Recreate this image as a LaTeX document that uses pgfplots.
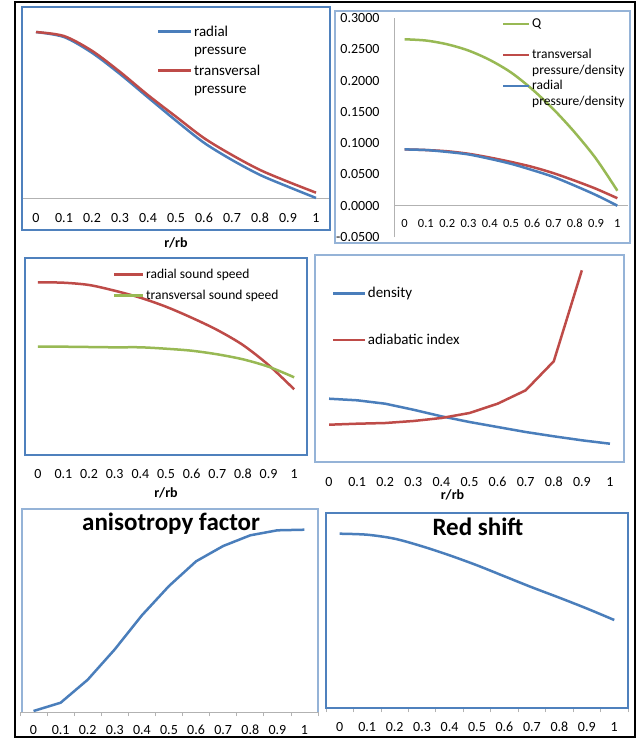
\documentclass[border=0pt]{standalone}
\usepackage{pgfplots}
\pgfplotsset{compat=1.18}
\usepackage{fontspec}
\setmainfont{Carlito}

\definecolor{sblue}{HTML}{4A7EBB}
\definecolor{sred}{HTML}{BE4B48}
\definecolor{sgreen}{HTML}{98B954}
\definecolor{fdark}{HTML}{4F81BD}
\definecolor{flight}{HTML}{95B3D7}

\newcommand\tk{\fontsize{14}{16}\selectfont}
\newcommand\lbl{\bfseries\fontsize{14}{16}\selectfont}
\newcommand\ttl{\bfseries\fontsize{25}{28}\selectfont}

\pgfplotsset{
  panel/.style={
    scale only axis, anchor=north west, clip=false,
    xmin=-0.05, xmax=1.05,
    xtick={0,0.1,0.2,0.3,0.4,0.5,0.6,0.7,0.8,0.9,1},
    xticklabels={0,0.1,0.2,0.3,0.4,0.5,0.6,0.7,0.8,0.9,1},
    major tick length=0pt,
    hide obscured x ticks=false, hide obscured y ticks=false,
    every axis plot/.append style={line width=2.5pt, line join=round},
    legend style={draw=none, fill=none, inner sep=0pt, cells={align=left},
      nodes={inner xsep=1.5pt, inner ysep=0pt}},
    legend cell align=left,
  },
  % legend key: length, vertical offset (to sit on the first line of a wrapped entry)
  key/.style 2 args={legend image code/.code={\draw[##1, line width=2.5pt] (0pt,#2) -- (#1,#2);}},
}

\begin{document}
\begin{tikzpicture}
\fill[white] (0pt,0pt) rectangle (643pt,-740pt);

% top left: pressures
\begin{axis}[panel, at={(22pt,-7pt)}, width=308pt, height=223pt,
  ymin=-0.193, ymax=1.151, hide y axis,
  axis x line=middle, axis line style={draw=gray!60, line width=0.8pt, -},
  xticklabel style={anchor=center, yshift=-20pt, font=\tk},
  xlabel={r/rb}, xlabel style={at={(axis description cs:0.5,-0.058)}, anchor=center, font=\lbl},
  key={33pt}{9pt},
  legend style={at={(axis description cs:0.438,0.917)}, anchor=north west, row sep=9pt,
    font=\fontsize{15}{18}\selectfont}]
\addplot[sblue, smooth] coordinates {(0,1.000) (0.1,0.970) (0.2,0.875) (0.3,0.747) (0.4,0.606) (0.5,0.466) (0.6,0.333) (0.7,0.229) (0.8,0.139) (0.9,0.068) (1,0.000)};
\addlegendentry{radial\\pressure}
\addplot[sred, smooth] coordinates {(0,1.000) (0.1,0.976) (0.2,0.887) (0.3,0.760) (0.4,0.620) (0.5,0.490) (0.6,0.361) (0.7,0.259) (0.8,0.169) (0.9,0.098) (1,0.032)};
\addlegendentry{transversal\\pressure}
\end{axis}
\draw[fdark, line width=2pt] (22pt,-7pt) rectangle (330pt,-230pt);

% top right: ratios
\begin{axis}[panel, at={(394pt,-18pt)}, width=234pt, height=219pt,
  ymin=-0.05, ymax=0.3,
  axis x line=middle, axis y line=left, axis line style={draw=gray!60, line width=0.8pt, -},
  ytick={-0.05,0,0.05,0.1,0.15,0.2,0.25,0.3},
  yticklabels={-0.0500,0.0000,0.0500,0.1000,0.1500,0.2000,0.2500,0.3000},
  yticklabel style={anchor=east, xshift=-11pt, font=\tk},
  xticklabel style={anchor=center, yshift=-18pt, font=\fontsize{12.5}{14}\selectfont},
  key={26pt}{7.5pt},
  legend style={at={(axis description cs:0.4615,0.999)}, anchor=north west, row sep=5pt,
    font=\fontsize{13.5}{15.5}\selectfont}]
\addplot[sgreen, smooth] coordinates {(0,0.266) (0.1,0.264) (0.2,0.258) (0.3,0.248) (0.4,0.233) (0.5,0.213) (0.6,0.186) (0.7,0.154) (0.8,0.117) (0.9,0.075) (1,0.024)};
\addlegendentry{Q\\\strut}
\addplot[sred, smooth] coordinates {(0,0.090) (0.1,0.089) (0.2,0.087) (0.3,0.083) (0.4,0.077) (0.5,0.070) (0.6,0.062) (0.7,0.052) (0.8,0.040) (0.9,0.027) (1,0.012)};
\addlegendentry{transversal\\pressure/density}
\addplot[sblue, smooth] coordinates {(0,0.090) (0.1,0.089) (0.2,0.086) (0.3,0.082) (0.4,0.075) (0.5,0.067) (0.6,0.057) (0.7,0.046) (0.8,0.032) (0.9,0.017) (1,0.000)};
\addlegendentry{radial\\pressure/density}
\end{axis}
\draw[flight, line width=1.2pt] (335pt,-11pt) rectangle (630pt,-243pt);

% middle left: sound speeds
\begin{axis}[panel, at={(25pt,-258pt)}, width=282pt, height=197pt,
  ymin=0, ymax=197, hide y axis,
  axis x line=bottom, x axis line style={draw=none},
  xticklabel style={anchor=center, yshift=-19pt, font=\tk},
  xlabel={r/rb}, xlabel style={at={(axis description cs:0.5,-0.193)}, anchor=center, font=\lbl},
  key={29pt}{0pt},
  legend style={at={(axis description cs:0.312,0.945)}, anchor=north west, row sep=10pt,
    font=\fontsize{13.5}{15}\selectfont}]
\addplot[sred, smooth] coordinates {(0,172.7) (0.1,172.3) (0.2,170.0) (0.3,164.3) (0.4,157.3) (0.5,148.3) (0.6,137.3) (0.7,125.0) (0.8,110.0) (0.9,90.0) (1,65.7)};
\addlegendentry{radial sound speed}
\addplot[sgreen, smooth] coordinates {(0,108.3) (0.1,108.3) (0.2,108.0) (0.3,107.7) (0.4,107.7) (0.5,106.3) (0.6,104.3) (0.7,100.7) (0.8,95.7) (0.9,88.3) (1,77.7)};
\addlegendentry{transversal sound speed}
\end{axis}
\draw[fdark, line width=1.8pt] (25pt,-258pt) rectangle (307pt,-455pt);

% middle right: density and adiabatic index
\begin{axis}[panel, at={(315pt,-255pt)}, width=309pt, height=207pt,
  ymin=0, ymax=207, hide y axis,
  axis x line=bottom, x axis line style={draw=none},
  xticklabel style={anchor=center, yshift=-20pt, font=\tk},
  xlabel={r/rb}, xlabel style={at={(axis description cs:0.445,-0.16)}, anchor=center, font=\lbl},
  key={32pt}{0pt},
  legend style={at={(axis description cs:0.054,0.845)}, anchor=north west, row sep=35pt,
    font=\fontsize{15}{17}\selectfont}]
\addplot[sblue] coordinates {(0,63.3) (0.1,61.7) (0.2,58.3) (0.3,52.3) (0.4,45.7) (0.5,40.0) (0.6,35.0) (0.7,30.0) (0.8,25.7) (0.9,21.7) (1,18.3)};
\addlegendentry{density}
\addplot[sred] coordinates {(0,37.3) (0.1,38.3) (0.2,39.0) (0.3,41.0) (0.4,44.0) (0.5,49.0) (0.6,58.3) (0.7,71.7) (0.8,100.7) (0.9,191.7)};
\addlegendentry{adiabatic index}
\end{axis}
\draw[flight, line width=1.2pt] (315pt,-255pt) rectangle (624pt,-462pt);

% bottom left: anisotropy factor
\begin{axis}[panel, at={(20pt,-509pt)}, width=298pt, height=203pt,
  ymin=0, ymax=203, hide y axis,
  axis x line=bottom, axis line style={draw=gray!60, line width=0.8pt, -},
  minor xtick={-0.05,0.05,0.15,0.25,0.35,0.45,0.55,0.65,0.75,0.85,0.95,1.05},
  tick align=outside, minor tick length=4pt, minor tick style={gray!60, line width=0.8pt},
  xticklabel style={anchor=center, yshift=-18pt, font=\tk},
  title={anisotropy factor},
  title style={at={(axis description cs:0.507,1)}, anchor=north, yshift=-6pt, font=\ttl}]
\addplot[sblue] coordinates {(0,1.0) (0.1,9.3) (0.2,32.3) (0.3,62.7) (0.4,96.7) (0.5,126.0) (0.6,150.7) (0.7,166.0) (0.8,176.7) (0.9,181.7) (1,182.3)};
\end{axis}
\draw[flight, line width=1.2pt] (22pt,-712pt) -- (22pt,-509pt) -- (318pt,-509pt) -- (318pt,-712pt);

% bottom right: red shift
\begin{axis}[panel, at={(326pt,-513pt)}, width=302pt, height=195pt,
  ymin=0, ymax=195, hide y axis,
  axis x line=bottom, x axis line style={draw=none},
  minor xtick={-0.05,0.05,0.15,0.25,0.35,0.45,0.55,0.65,0.75,0.85,0.95,1.05},
  tick align=outside, minor tick length=4pt, minor tick style={gray!60, line width=0.8pt},
  xticklabel style={anchor=center, yshift=-19pt, font=\tk},
  title={Red shift},
  title style={at={(axis description cs:0.503,1)}, anchor=north, yshift=-7pt, font=\ttl}]
\addplot[sblue, smooth] coordinates {(0,174.3) (0.1,173.3) (0.2,169.3) (0.3,161.7) (0.4,152.7) (0.5,142.7) (0.6,131.7) (0.7,120.7) (0.8,110.3) (0.9,99.5) (1,88.0)};
\end{axis}
\draw[fdark, line width=2pt] (326pt,-513pt) rectangle (628pt,-708pt);

\draw[black, line width=2pt] (15pt,-2pt) rectangle (635pt,-737pt);
\end{tikzpicture}
\end{document}
